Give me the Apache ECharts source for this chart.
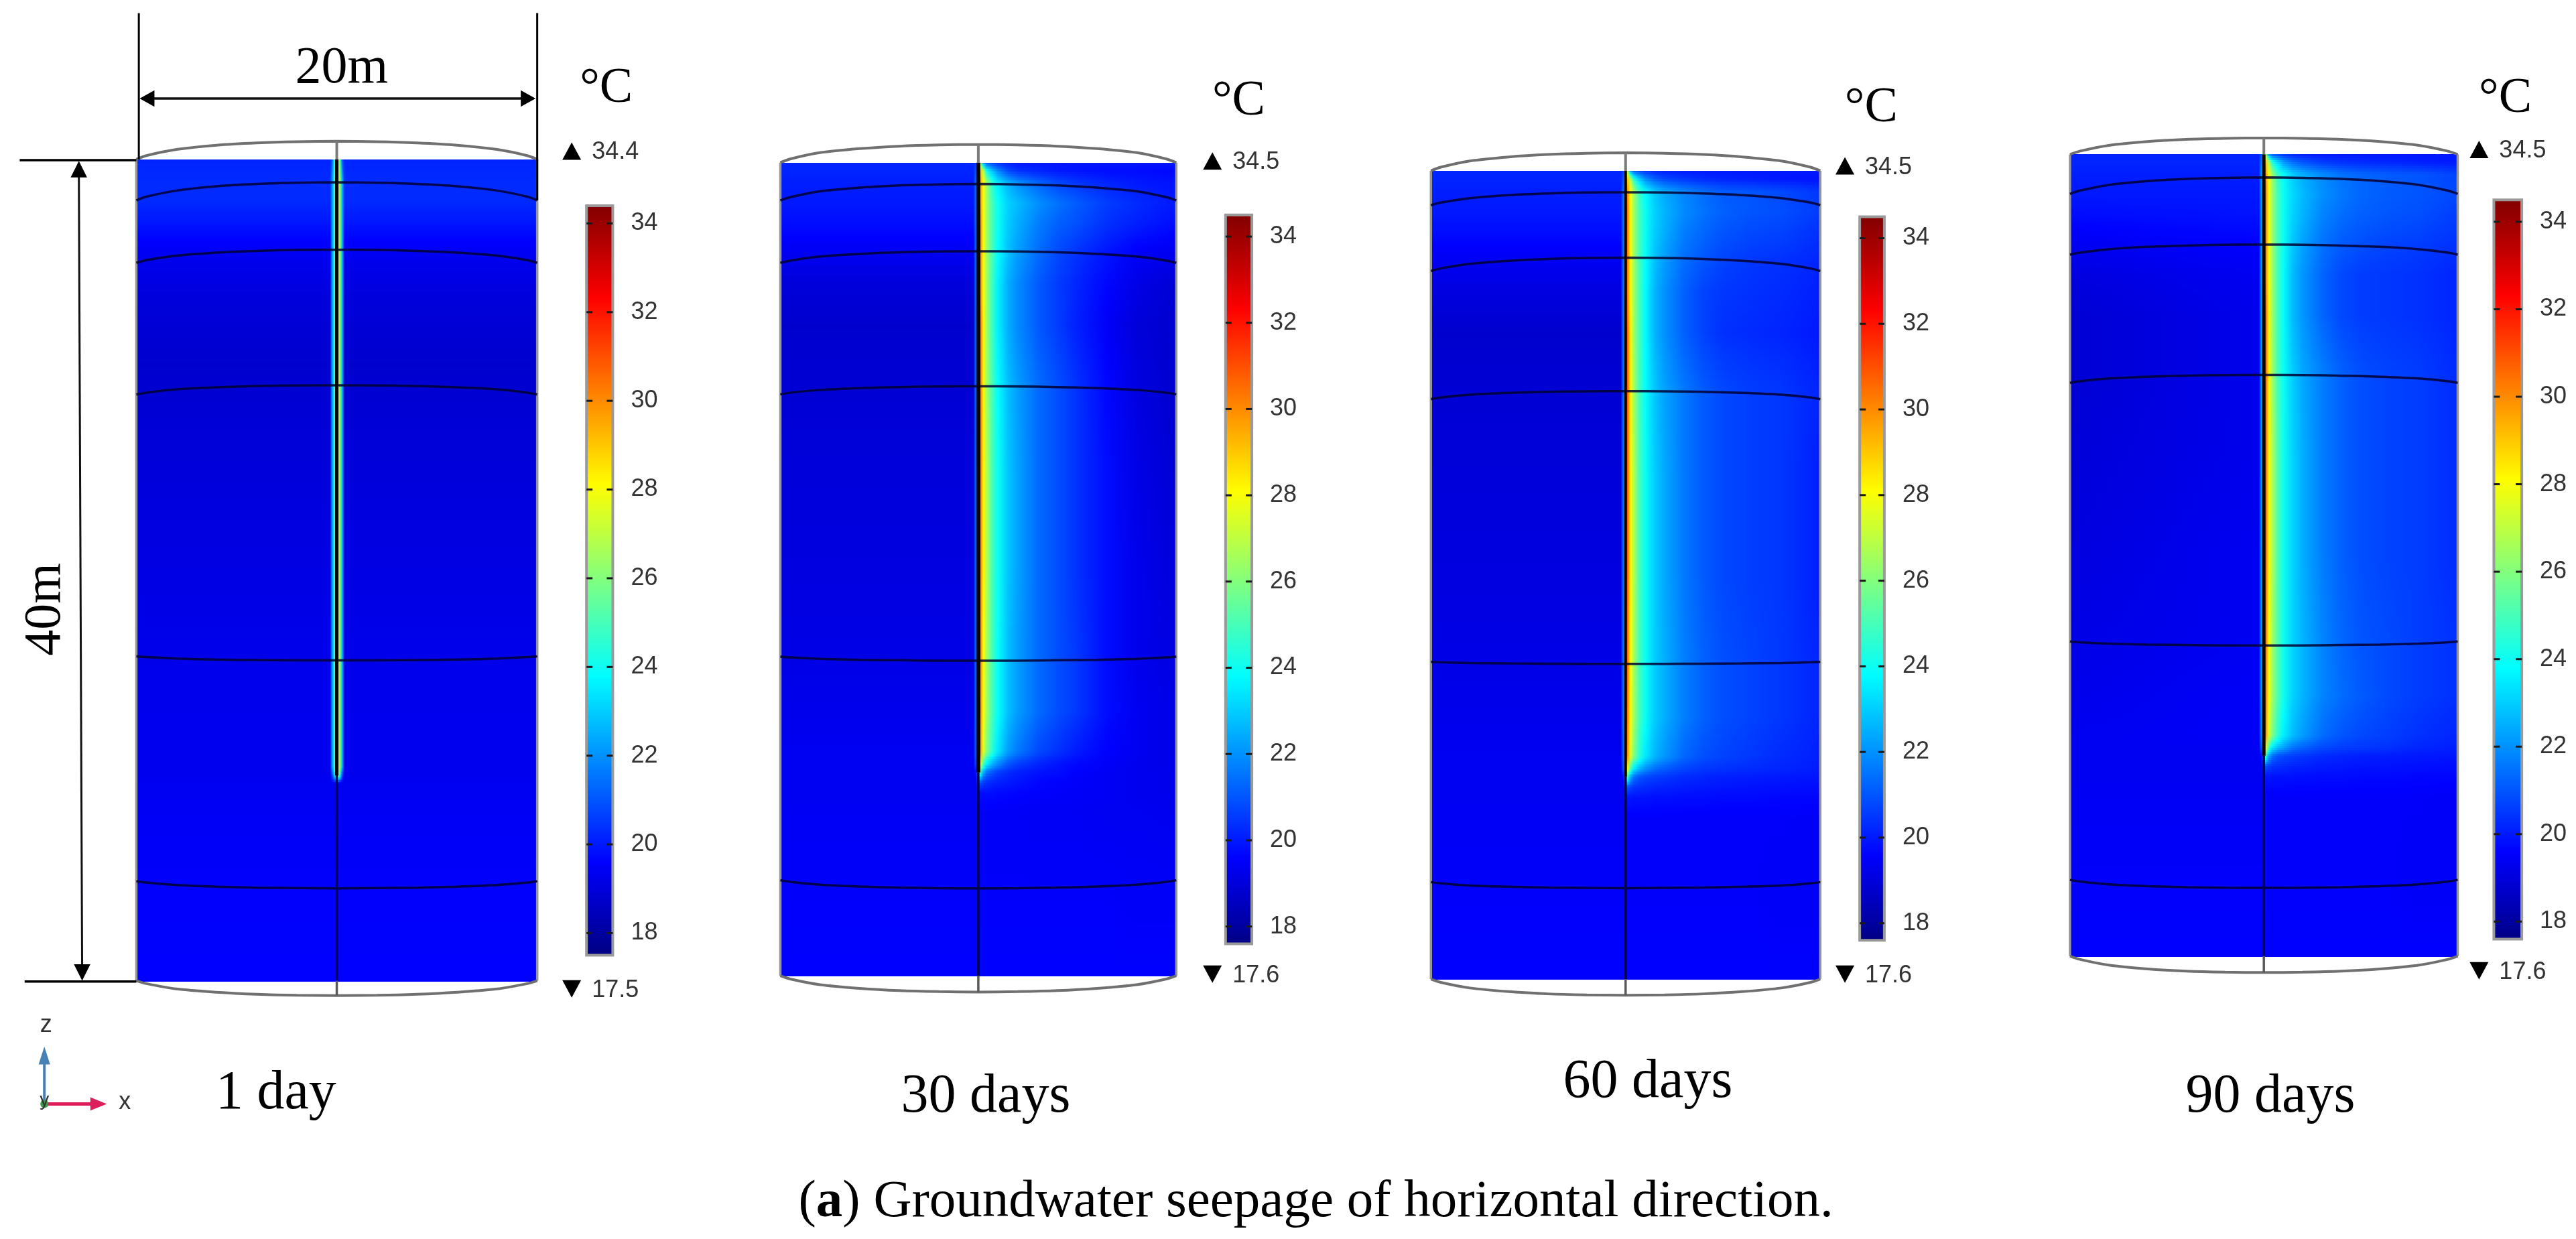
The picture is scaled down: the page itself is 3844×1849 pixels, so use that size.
<!DOCTYPE html>
<html>
<head>
<meta charset="utf-8">
<title>Groundwater seepage of horizontal direction</title>
<style>html,body{margin:0;padding:0;background:#fff}#c{width:3844px;height:1849px;filter:blur(0.7px)}</style>
<script src="https://cdn.jsdelivr.net/npm/echarts@6/dist/echarts.min.js"></script>
</head>
<body>
<div id="c"></div>
<script>
// ---------- text ----------
const panelTitles = ['1 day', '30 days', '60 days', '90 days'];
const captionText = ') Groundwater seepage of horizontal direction.';
const maxLabels = [34.4, 34.5, 34.5, 34.5];
const minLabels = [17.5, 17.6, 17.6, 17.6];
const colorbarTicks = [18, 20, 22, 24, 26, 28, 30, 32, 34];

// ---------- jet scale of the colour bar ----------
const jetColors = ['#000080', '#0000ff', '#0080ff', '#00ffff', '#80ff80', '#ffff00', '#ff8000', '#ff0000', '#800000'];
const scaleMin = 17.5, scaleMax = 34.4;
const colorbarTemps = [17.5, 18, 18.5, 19, 19.6, 20.7, 21.7, 22.8, 23.8, 24.9, 26, 27, 28.1, 29.1, 30.2, 31.2, 32.3, 33.3, 34.5];

// ---------- temperature fields (deg C). x = metres from borehole, depth = metres ----------
const xDay1 = [-10, -0.34, -0.24, -0.12, -0.02, 0.06, 0.16, 0.28, 0.38, 10];
const depthDay1 = [0, 1, 2, 3, 4, 5, 7, 10, 12, 18, 25, 29.6, 30, 30.4, 35, 40];
const tempDay1 = [
  [20.2, 20.2, 21, 24, 27, 27.5, 25, 21, 20.2, 20.2],
  [20.3, 20.3, 22, 24.5, 28, 28.5, 26, 22.5, 20.3, 20.3],
  [20.3, 20.3, 22, 24.5, 28, 28.5, 26, 22.5, 20.3, 20.3],
  [20.0, 20.0, 22, 24.5, 28, 28.5, 26, 22.5, 20.0, 20.0],
  [19.6, 19.6, 22, 24.5, 28, 28.5, 26, 22.5, 19.6, 19.6],
  [19.3, 19.3, 22, 24.5, 28, 28.5, 26, 22.5, 19.3, 19.3],
  [19.0, 19.0, 22, 24.5, 28, 28.5, 26, 22.5, 19.0, 19.0],
  [18.8, 18.8, 22, 24.5, 28, 28.5, 26, 22.5, 18.8, 18.8],
  [18.9, 18.9, 22, 24.5, 28, 28.5, 26, 22.5, 18.9, 18.9],
  [19.1, 19.1, 22, 24.5, 28, 28.5, 26, 22.5, 19.1, 19.1],
  [19.3, 19.3, 22, 24.5, 28, 28.5, 26, 22.5, 19.3, 19.3],
  [19.35, 19.35, 22, 24.5, 28, 28.5, 26, 22.5, 19.35, 19.35],
  [19.35, 19.35, 20.5, 23, 26, 26.5, 24, 20.5, 19.35, 19.35],
  [19.4, 19.4, 19.4, 19.4, 19.4, 19.4, 19.4, 19.4, 19.4, 19.4],
  [19.55, 19.55, 19.55, 19.55, 19.55, 19.55, 19.55, 19.55, 19.55, 19.55],
  [19.6, 19.6, 19.6, 19.6, 19.6, 19.6, 19.6, 19.6, 19.6, 19.6]
];

const xLong = [-10, -0.25, -0.12, 0.08, 0.25, 0.42, 0.7, 1, 1.5, 2, 3, 4, 5, 6.5, 8, 10];
const depthLong = [0, 0.4, 1, 2, 3, 4.5, 6, 8, 11, 15, 20, 24, 27, 29, 29.6, 30, 30.5, 31, 32, 36, 40];
const tempDay30 = [
  [20.2, 20.2, 20.6, 27, 22, 21, 20.6, 20.3, 20.1, 20, 20, 20, 20, 20, 20, 20],
  [20.2, 20.2, 21, 29, 27, 24, 22.8, 21.8, 20.8, 20.4, 20.2, 20, 19.9, 19.8, 19.8, 19.7],
  [20.1, 20.1, 21.5, 30, 28, 26.5, 24.5, 23.5, 22.6, 22, 21.3, 20.8, 20.5, 20.2, 20, 19.9],
  [20, 20, 21.5, 30, 28, 26.5, 25, 24, 23.1, 22.7, 22, 21.5, 21.1, 20.6, 20.3, 20],
  [19.8, 19.8, 21.5, 30.5, 28, 26.5, 25, 24, 23, 22.5, 21.7, 21.2, 20.9, 20.4, 20.1, 19.8],
  [19.4, 19.4, 21.5, 30.5, 28, 26.5, 25, 23.8, 22.8, 22.2, 21.4, 20.8, 20.4, 19.9, 19.5, 19.3],
  [19, 19, 21.5, 30.5, 28, 26.5, 24.8, 23.6, 22.5, 21.9, 21.1, 20.6, 20.2, 19.7, 19.2, 18.9],
  [18.8, 18.8, 21.5, 31, 28.2, 26.5, 24.8, 23.6, 22.5, 21.9, 21.1, 20.6, 20.1, 19.5, 19, 18.8],
  [18.9, 18.9, 21.5, 31, 28.2, 26.5, 25, 23.8, 22.8, 22.2, 21.4, 20.9, 20.4, 19.7, 19.1, 18.8],
  [19, 19, 21.5, 31, 28.2, 26.8, 25, 24, 22.9, 22.3, 21.4, 20.9, 20.4, 19.8, 19.2, 18.9],
  [19.1, 19.1, 21.5, 30.8, 28.2, 26.8, 25, 24, 22.9, 22.3, 21.4, 20.9, 20.4, 19.8, 19.3, 19],
  [19.2, 19.2, 21.5, 30.8, 28, 26.6, 25, 23.9, 22.8, 22.2, 21.4, 20.9, 20.5, 19.8, 19.3, 19.1],
  [19.3, 19.3, 21.5, 30.5, 28, 26.5, 25, 23.9, 22.8, 22.2, 21.4, 20.9, 20.5, 19.8, 19.4, 19.2],
  [19.4, 19.4, 21.2, 30, 27.5, 26, 24.5, 23.4, 22.2, 21.6, 20.8, 20.4, 20, 19.6, 19.4, 19.2],
  [19.4, 19.4, 20.8, 28, 25, 23.5, 22.5, 21.8, 21, 20.6, 20.2, 19.9, 19.7, 19.5, 19.35, 19.25],
  [19.4, 19.4, 19.8, 25, 22.5, 21.5, 21, 20.6, 20.3, 20.1, 19.9, 19.8, 19.6, 19.45, 19.35, 19.3],
  [19.4, 19.4, 19.4, 21, 20.6, 20.4, 20.2, 20.1, 20, 19.9, 19.7, 19.6, 19.55, 19.45, 19.35, 19.3],
  [19.4, 19.4, 19.4, 19.8, 19.8, 19.8, 19.8, 19.75, 19.7, 19.65, 19.6, 19.55, 19.5, 19.45, 19.35, 19.3],
  [19.45, 19.45, 19.45, 19.5, 19.5, 19.5, 19.5, 19.5, 19.5, 19.5, 19.45, 19.45, 19.45, 19.4, 19.4, 19.35],
  [19.55, 19.55, 19.55, 19.55, 19.55, 19.55, 19.55, 19.55, 19.55, 19.55, 19.55, 19.55, 19.55, 19.55, 19.5, 19.5],
  [19.6, 19.6, 19.6, 19.6, 19.6, 19.6, 19.6, 19.6, 19.6, 19.6, 19.6, 19.6, 19.6, 19.6, 19.6, 19.6]
];
const tempDay60 = [
  [20.2, 20.2, 20.6, 27, 22, 21, 20.7, 20.4, 20.2, 20.1, 20, 20, 20, 20, 20, 20],
  [20.2, 20.2, 21, 29, 27, 24.5, 23, 22, 21.2, 20.8, 20.5, 20.3, 20.2, 20.1, 20, 19.9],
  [20.1, 20.1, 21.5, 30, 28, 26.5, 24.8, 23.8, 22.9, 22.4, 21.8, 21.4, 21.1, 21, 20.8, 20.5],
  [20, 20, 21.5, 30.5, 28, 26.5, 25, 24, 23.1, 22.6, 21.9, 21.5, 21.2, 21, 20.9, 20.6],
  [19.8, 19.8, 21.5, 30.5, 28, 26.5, 25, 24, 23, 22.5, 21.7, 21.3, 21, 20.8, 20.7, 20.4],
  [19.4, 19.4, 21.5, 30.5, 28, 26.5, 25, 23.9, 22.8, 22.2, 21.4, 21, 20.7, 20.5, 20.4, 20.2],
  [19.1, 19.1, 21.5, 30.5, 28, 26.5, 25, 23.8, 22.6, 22, 21.2, 20.7, 20.5, 20.4, 20.3, 20.1],
  [18.8, 18.8, 21.5, 31, 28.2, 26.5, 25, 23.8, 22.6, 22, 21.2, 20.7, 20.4, 20.3, 20.2, 20],
  [18.9, 18.9, 21.5, 31, 28.2, 26.6, 25, 23.9, 22.9, 22.3, 21.6, 21.1, 20.8, 20.6, 20.5, 20.2],
  [19, 19, 21.5, 31, 28.2, 26.8, 25, 24, 23, 22.4, 21.6, 21.1, 20.8, 20.6, 20.5, 20.1],
  [19.1, 19.1, 21.5, 31, 28.2, 26.8, 25, 24, 23, 22.4, 21.6, 21.1, 20.8, 20.6, 20.5, 20.1],
  [19.2, 19.2, 21.5, 30.8, 28, 26.6, 25, 24, 23, 22.5, 21.7, 21.2, 20.9, 20.7, 20.5, 20.2],
  [19.3, 19.3, 21.5, 30.5, 28, 26.5, 25, 24, 23, 22.5, 21.7, 21.2, 20.9, 20.7, 20.5, 20.2],
  [19.4, 19.4, 21.2, 30, 27.5, 26, 24.5, 23.5, 22.6, 22.1, 21.3, 20.9, 20.7, 20.5, 20.3, 20.1],
  [19.4, 19.4, 20.8, 28, 25, 23.5, 22.6, 22, 21.4, 21.1, 20.7, 20.5, 20.4, 20.3, 20.2, 20.05],
  [19.4, 19.4, 19.8, 25, 22.5, 21.5, 21, 20.8, 20.6, 20.5, 20.3, 20.2, 20.1, 20.05, 20, 19.95],
  [19.4, 19.4, 19.4, 21, 20.7, 20.5, 20.4, 20.3, 20.2, 20.15, 20.05, 20, 19.95, 19.9, 19.85, 19.8],
  [19.4, 19.4, 19.4, 19.95, 19.95, 19.9, 19.9, 19.9, 19.85, 19.85, 19.8, 19.8, 19.75, 19.75, 19.7, 19.7],
  [19.45, 19.45, 19.45, 19.55, 19.55, 19.55, 19.55, 19.55, 19.55, 19.55, 19.55, 19.55, 19.55, 19.55, 19.55, 19.5],
  [19.55, 19.55, 19.55, 19.55, 19.55, 19.55, 19.55, 19.55, 19.55, 19.55, 19.55, 19.55, 19.55, 19.55, 19.5, 19.5],
  [19.6, 19.6, 19.6, 19.6, 19.6, 19.6, 19.6, 19.6, 19.6, 19.6, 19.6, 19.6, 19.6, 19.6, 19.6, 19.6]
];
const tempDay90 = [
  [20.2, 20.2, 21.2, 27, 22, 21, 20.7, 20.4, 20.2, 20.1, 20, 20, 20, 20, 20, 20],
  [20.2, 20.2, 21.8, 29, 27, 24.5, 23.2, 22.2, 21.4, 21, 20.6, 20.4, 20.3, 20.2, 20.1, 20],
  [20.1, 20.1, 22.4, 30, 28, 26.5, 24.8, 23.9, 23, 22.5, 21.9, 21.5, 21.3, 21.1, 21, 20.7],
  [20, 20, 22.4, 30.5, 28, 26.5, 25, 24, 23.2, 22.7, 22, 21.6, 21.3, 21.1, 21, 20.8],
  [19.8, 19.9, 22.4, 30.5, 28, 26.5, 25, 24, 23.1, 22.6, 21.8, 21.4, 21.2, 21, 20.9, 20.6],
  [19.4, 19.6, 22.4, 30.5, 28, 26.5, 25, 24, 22.9, 22.3, 21.5, 21.1, 20.9, 20.7, 20.6, 20.4],
  [19.1, 19.4, 22.4, 30.5, 28, 26.5, 25, 23.9, 22.7, 22.1, 21.3, 20.8, 20.6, 20.5, 20.4, 20.2],
  [18.9, 19.3, 22.4, 31, 28.2, 26.5, 25, 23.9, 22.7, 22.1, 21.3, 20.8, 20.6, 20.5, 20.4, 20.2],
  [18.9, 19.3, 22.4, 31, 28.2, 26.6, 25, 24, 23, 22.4, 21.7, 21.2, 20.9, 20.7, 20.6, 20.3],
  [19, 19.3, 22.4, 31, 28.2, 26.8, 25.2, 24.1, 23.1, 22.5, 21.7, 21.2, 20.9, 20.7, 20.6, 20.3],
  [19.1, 19.4, 22.4, 31, 28.2, 26.8, 25.2, 24.1, 23.1, 22.5, 21.7, 21.2, 20.9, 20.7, 20.6, 20.3],
  [19.2, 19.4, 22.4, 30.8, 28, 26.6, 25.2, 24.1, 23.1, 22.6, 21.8, 21.3, 21, 20.8, 20.6, 20.4],
  [19.3, 19.5, 22.4, 30.5, 28, 26.5, 25.2, 24.1, 23.1, 22.6, 21.8, 21.4, 21.1, 20.8, 20.6, 20.4],
  [19.4, 19.5, 22, 30, 27.5, 26, 24.6, 23.6, 22.7, 22.2, 21.4, 21, 20.8, 20.6, 20.4, 20.2],
  [19.4, 19.4, 21.2, 28, 25, 23.5, 22.7, 22.2, 21.5, 21.2, 20.8, 20.6, 20.5, 20.4, 20.2, 20.1],
  [19.4, 19.4, 19.8, 25, 22.5, 21.5, 21, 20.8, 20.6, 20.5, 20.3, 20.2, 20.1, 20.05, 20, 19.95],
  [19.4, 19.4, 19.4, 21, 20.7, 20.5, 20.4, 20.3, 20.2, 20.15, 20.05, 20, 19.95, 19.9, 19.85, 19.8],
  [19.4, 19.4, 19.4, 19.95, 19.95, 19.9, 19.9, 19.9, 19.85, 19.85, 19.8, 19.8, 19.75, 19.75, 19.7, 19.7],
  [19.45, 19.45, 19.45, 19.55, 19.55, 19.55, 19.55, 19.55, 19.55, 19.55, 19.55, 19.55, 19.55, 19.55, 19.55, 19.5],
  [19.55, 19.55, 19.55, 19.55, 19.55, 19.55, 19.55, 19.55, 19.55, 19.55, 19.55, 19.55, 19.55, 19.55, 19.5, 19.5],
  [19.6, 19.6, 19.6, 19.6, 19.6, 19.6, 19.6, 19.6, 19.6, 19.6, 19.6, 19.6, 19.6, 19.6, 19.6, 19.6]
];
const boreholeEnd = [30, 30, 30, 30];

// ---------- layer curves on the cylinder: depth (m) at these |x| (m) ----------
const arcX = [0, 2, 4, 6, 8, 9.5, 10];
const arcsDay1 = [
  [-0.88, -0.86, -0.8, -0.69, -0.48, -0.18, 0],
  [1.12, 1.14, 1.2, 1.31, 1.52, 1.82, 2],
  [4.4, 4.41, 4.46, 4.54, 4.69, 4.91, 5.04],
  [11, 11.01, 11.04, 11.1, 11.2, 11.36, 11.45],
  [24.4, 24.4, 24.38, 24.36, 24.31, 24.24, 24.2],
  [35.5, 35.49, 35.47, 35.42, 35.34, 35.22, 35.15],
  [40.72, 40.71, 40.66, 40.56, 40.4, 40.14, 40]
];
const arcsDay30 = [
  [-0.89, -0.87, -0.81, -0.69, -0.49, -0.18, 0],
  [1.05, 1.07, 1.12, 1.23, 1.41, 1.7, 1.86],
  [4.36, 4.37, 4.41, 4.49, 4.62, 4.82, 4.93],
  [11, 11.01, 11.04, 11.09, 11.18, 11.32, 11.4],
  [24.5, 24.5, 24.48, 24.46, 24.41, 24.34, 24.3],
  [35.7, 35.69, 35.66, 35.61, 35.52, 35.38, 35.3],
  [40.8, 40.78, 40.73, 40.62, 40.44, 40.16, 40]
];
const arcsDay60 = [
  [-0.89, -0.87, -0.81, -0.69, -0.49, -0.18, 0],
  [1.06, 1.07, 1.12, 1.2, 1.35, 1.57, 1.7],
  [4.3, 4.31, 4.36, 4.45, 4.6, 4.83, 4.96],
  [10.9, 10.91, 10.94, 10.99, 11.08, 11.22, 11.3],
  [24.4, 24.4, 24.39, 24.38, 24.36, 24.32, 24.3],
  [35.5, 35.49, 35.47, 35.43, 35.37, 35.26, 35.2],
  [40.8, 40.78, 40.73, 40.62, 40.44, 40.16, 40]
];
const arcsDay90 = [
  [-0.82, -0.8, -0.75, -0.64, -0.45, -0.16, 0],
  [1.15, 1.17, 1.22, 1.33, 1.52, 1.81, 1.97],
  [4.5, 4.51, 4.55, 4.61, 4.73, 4.9, 5],
  [11, 11.01, 11.04, 11.09, 11.18, 11.32, 11.4],
  [24.5, 24.5, 24.48, 24.46, 24.41, 24.34, 24.3],
  [36.6, 36.59, 36.56, 36.51, 36.42, 36.28, 36.2],
  [40.82, 40.8, 40.75, 40.64, 40.45, 40.16, 40]
];

// ---------- page layout, in the coordinates of the 1568 wide view ----------
const S = 3844 / 1568;
const px = v => v * S;
const fieldLeft = [83, 475, 871, 1260], fieldRight = [327, 716, 1108, 1496];
const fieldTop = [97, 99, 104, 94], fieldBottom = [597, 594, 596, 582];
const barLeft = [357, 746, 1132, 1518], barRight = [373, 762, 1147, 1535];
const tick34Y = [136, 144, 145, 135], tick18Y = [568, 564, 562, 561];
const unitX = [369, 754, 1139, 1525], unitY = [54, 62, 66, 60];
const maxMarkX = [348, 738, 1123, 1509], maxMarkY = [92, 98, 101, 91], minMarkY = [602, 593, 593, 591];
const titleX = [168, 600, 1003, 1382], titleY = [666, 668, 659, 668];

const panels = [
  { xs: xDay1, depths: depthDay1, temps: tempDay1, arcs: arcsDay1, coreWidth: 5 },
  { xs: xLong, depths: depthLong, temps: tempDay30, arcs: arcsDay30, coreWidth: 6 },
  { xs: xLong, depths: depthLong, temps: tempDay60, arcs: arcsDay60, coreWidth: 4 },
  { xs: xLong, depths: depthLong, temps: tempDay90, arcs: arcsDay90, coreWidth: 5 }
];

const jet = t => echarts.color.lerp(Math.max(0, Math.min(1, (t - scaleMin) / (scaleMax - scaleMin))), jetColors);

function fieldRender(panel) {
  const xs = panel.xs, rows = panel.temps;
  const span = xs[xs.length - 1] - xs[0];
  return function (params, api) {
    const i = api.value(2);
    const a = api.coord([xs[0], api.value(0)]);
    const b = api.coord([xs[xs.length - 1], api.value(1)]);
    const n = Math.max(1, Math.ceil((b[1] - a[1]) / 3));
    const kids = [];
    for (let k = 0; k < n; k++) {
      const f = (k + 0.5) / n;
      const stops = xs.map((x, c) => ({
        offset: (x - xs[0]) / span,
        color: jet(rows[i][c] + (rows[i + 1][c] - rows[i][c]) * f)
      }));
      const y0 = Math.round(a[1] + (b[1] - a[1]) * k / n);
      const y1 = Math.round(a[1] + (b[1] - a[1]) * (k + 1) / n);
      kids.push({
        type: 'rect', silent: true,
        shape: { x: a[0], y: y0, width: b[0] - a[0], height: y1 - y0 + 1 },
        style: { fill: new echarts.graphic.LinearGradient(0, 0, 1, 0, stops) }
      });
    }
    return { type: 'group', children: kids };
  };
}

function barRender(tMin, tMax) {
  return function (params, api) {
    const top = api.coord([0, tMax]), bot = api.coord([1, tMin]);
    const stops = colorbarTemps.map(t => ({
      offset: Math.max(0, Math.min(1, (tMax - t) / (tMax - tMin))),
      color: jet(t)
    }));
    stops.sort((p, q) => p.offset - q.offset);
    const kids = [{
      type: 'rect', silent: true,
      shape: { x: top[0], y: top[1], width: bot[0] - top[0], height: bot[1] - top[1] },
      style: { fill: new echarts.graphic.LinearGradient(0, 0, 0, 1, stops), stroke: '#9a9a9a', lineWidth: 4 }
    }];
    colorbarTicks.forEach(t => {
      const y = api.coord([0, t])[1];
      [[top[0], top[0] + 9], [bot[0] - 9, bot[0]]].forEach(e => kids.push({
        type: 'line', silent: true,
        shape: { x1: e[0], y1: y, x2: e[1], y2: y },
        style: { stroke: '#1a1a1a', lineWidth: 3 }
      }));
    });
    return { type: 'group', children: kids };
  };
}

const grids = [], xAxes = [], yAxes = [], series = [], graphics = [];
const hidden = { show: false };

panels.forEach((panel, p) => {
  // temperature field
  const gi = grids.length;
  grids.push({ left: px(fieldLeft[p]), width: px(fieldRight[p] - fieldLeft[p]), top: px(fieldTop[p]), height: px(fieldBottom[p] - fieldTop[p]), show: false });
  xAxes.push({ type: 'value', gridIndex: gi, min: -10, max: 10, ...hidden });
  const yf = yAxes.length;
  yAxes.push({ type: 'value', gridIndex: gi, min: 0, max: 40, inverse: true, ...hidden });
  series.push({
    type: 'custom', xAxisIndex: gi, yAxisIndex: yf, z: 1, silent: true, clip: false,
    renderItem: fieldRender(panel),
    encode: { y: [0, 1] },
    data: panel.depths.slice(0, -1).map((d, i) => [d, panel.depths[i + 1], i])
  });
  const line = (data, color, width, z) => series.push({
    type: 'line', xAxisIndex: gi, yAxisIndex: yf, data, silent: true, clip: false, z: z || 3,
    symbol: 'none', smooth: false, animation: false,
    lineStyle: { color, width, cap: 'butt' }
  });
  // cylinder edges
  line([[-10, 0], [-10, 40]], '#969696', 3.5);
  line([[10, 0], [10, 40]], '#969696', 3.5);
  // curves
  panel.arcs.forEach((arc, a) => {
    const pts = [];
    for (let i = arcX.length - 1; i > 0; i--) pts.push([-arcX[i], arc[i]]);
    arcX.forEach((x, i) => pts.push([x, arc[i]]));
    const outer = a === 0 || a === panel.arcs.length - 1;
    series.push({
      type: 'line', xAxisIndex: gi, yAxisIndex: yf, data: pts, silent: true, clip: false, z: 3,
      symbol: 'none', smooth: 0.3, animation: false,
      lineStyle: { color: outer ? '#707070' : '#000030', width: outer ? 4 : 3.5, opacity: outer ? 1 : 0.85 }
    });
  });
  // borehole
  const arcs = panel.arcs;
  line([[0, arcs[0][0]], [0, 0]], '#7a7a7a', 4, 4);
  line([[0, 0], [0, boreholeEnd[p]]], '#050505', panel.coreWidth, 4);
  line([[0, boreholeEnd[p]], [0, 40]], '#000050', 3.5, 4);
  line([[0, 40], [0, arcs[6][0]]], '#5a5a5a', 3.5, 4);

  // colour bar
  const k = (tick18Y[p] - tick34Y[p]) / 16;
  const tMax = maxLabels[p], tMin = minLabels[p];
  const barTop = tick34Y[p] - (tMax - 34) * k, barBot = tick18Y[p] + (18 - tMin) * k;
  const gb = grids.length;
  grids.push({ left: px(barLeft[p]), width: px(barRight[p] - barLeft[p]), top: px(barTop), height: px(barBot - barTop), show: false });
  xAxes.push({ type: 'value', gridIndex: gb, min: 0, max: 1, ...hidden });
  const ybr = yAxes.length;
  yAxes.push({
    type: 'value', gridIndex: gb, position: 'right', min: tMin, max: tMax,
    axisLine: { show: false }, splitLine: { show: false }, axisTick: { show: false },
    axisLabel: { show: true, customValues: colorbarTicks, margin: 27, color: '#333', fontFamily: 'Liberation Sans', fontSize: 36 }
  });
  series.push({
    type: 'custom', xAxisIndex: gb, yAxisIndex: ybr, z: 1, silent: true, clip: false,
    renderItem: barRender(tMin, tMax),
    encode: { y: [0, 1] },
    data: [[tMin, tMax]]
  });

  // panel texts
  graphics.push({ type: 'text', x: px(titleX[p]), y: px(titleY[p]), style: { text: panelTitles[p], font: '82px "Liberation Serif"', fill: '#000', align: 'center', verticalAlign: 'middle' } });
  graphics.push({ type: 'text', x: px(unitX[p]), y: px(unitY[p]), style: { text: '°C', font: '74px "Liberation Serif"', fill: '#000', align: 'center', verticalAlign: 'middle' } });
  const mx = px(maxMarkX[p]);
  const up = px(maxMarkY[p]), dn = px(minMarkY[p]);
  graphics.push({ type: 'polygon', shape: { points: [[mx - 14, up + 13], [mx + 14, up + 13], [mx, up - 13]] }, style: { fill: '#000' } });
  graphics.push({ type: 'polygon', shape: { points: [[mx - 14, dn - 13], [mx + 14, dn - 13], [mx, dn + 13]] }, style: { fill: '#000' } });
  graphics.push({ type: 'text', x: mx + 30, y: up + 2, style: { text: String(maxLabels[p]), font: '36px "Liberation Sans"', fill: '#333', verticalAlign: 'middle' } });
  graphics.push({ type: 'text', x: mx + 30, y: dn + 2, style: { text: minLabels[p].toFixed(1), font: '36px "Liberation Sans"', fill: '#333', verticalAlign: 'middle' } });
});

// dimension lines of the first panel
const seg = (x1, y1, x2, y2, color, w) => graphics.push({ type: 'line', shape: { x1: px(x1), y1: px(y1), x2: px(x2), y2: px(y2) }, style: { stroke: color || '#000', lineWidth: w || 3 }, z: 10 });
const tri = (pts, fill) => graphics.push({ type: 'polygon', shape: { points: pts.map(q => [px(q[0]), px(q[1])]) }, style: { fill: fill || '#000' }, z: 10 });
seg(84.5, 8, 84.5, 97, '#000', 3);
seg(327, 8, 327, 122, '#000', 3);
seg(90, 60, 322, 60, '#111', 3.5);
tri([[85, 60], [94, 55], [94, 65]]);
tri([[326, 60], [317, 55], [317, 65]]);
seg(12, 97.5, 83, 97.5, '#000', 3.5);
seg(15, 597.5, 83, 597.5, '#000', 3.5);
seg(48, 105, 50, 590, '#111', 3);
tri([[48, 98], [43, 108], [53, 108]]);
tri([[50, 597], [45, 587], [55, 587]]);
graphics.push({ type: 'text', x: px(208), y: px(42), style: { text: '20m', font: '78px "Liberation Serif"', fill: '#000', align: 'center', verticalAlign: 'middle' } });
graphics.push({ type: 'text', x: px(28), y: px(371), rotation: Math.PI / 2, style: { text: '40m', font: '78px "Liberation Serif"', fill: '#000', align: 'center', verticalAlign: 'middle' } });

// coordinate triad
seg(27, 672, 27, 645, '#4682b4', 4);
tri([[27, 637], [23.5, 648], [30.5, 648]], '#4682b4');
seg(27, 672, 58, 672, '#dc1e5a', 5);
tri([[65, 672], [55, 668], [55, 676]], '#dc1e5a');
graphics.push({ type: 'circle', shape: { cx: px(27), cy: px(672), r: 6 }, style: { fill: '#3a9a4a' }, z: 11 });
graphics.push({ type: 'text', x: px(28), y: px(624), style: { text: 'z', font: '36px "Liberation Sans"', fill: '#333', align: 'center', verticalAlign: 'middle' } });
graphics.push({ type: 'text', x: px(76), y: px(671), style: { text: 'x', font: '36px "Liberation Sans"', fill: '#333', align: 'center', verticalAlign: 'middle' } });
graphics.push({ type: 'text', x: px(27), y: px(670), style: { text: 'y', font: '28px "Liberation Sans"', fill: '#333', align: 'center', verticalAlign: 'middle' }, z: 12 });

// caption
graphics.push({
  type: 'text', x: px(801), y: px(732),
  style: {
    text: '{n|(}{b|a}{n|' + captionText + '}',
    align: 'center', verticalAlign: 'middle',
    rich: {
      n: { font: '79px "Liberation Serif"', fill: '#000' },
      b: { font: 'bold 79px "Liberation Serif"', fill: '#000' }
    }
  }
});

const chart = echarts.init(document.getElementById('c'), null, { renderer: 'canvas' });
chart.setOption({
  backgroundColor: '#ffffff',
  animation: false,
  grid: grids,
  xAxis: xAxes,
  yAxis: yAxes,
  series: series,
  graphic: { elements: graphics }
});
</script>
</body>
</html>
